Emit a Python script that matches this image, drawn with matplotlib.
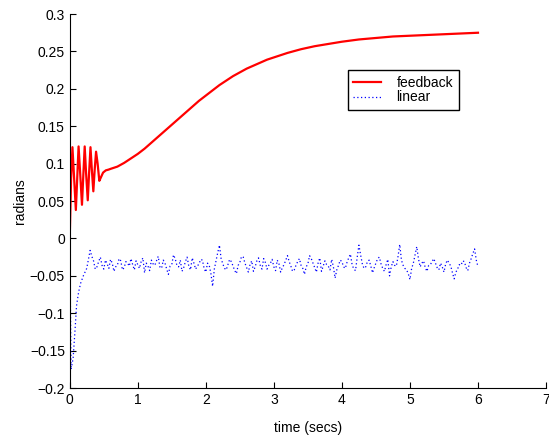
import matplotlib
matplotlib.use('Agg')
import matplotlib.pyplot as plt
import matplotlib.ticker as ticker
import numpy as np

plt.rcParams['font.family'] = ['Liberation Sans', 'DejaVu Sans']
plt.rcParams['font.size'] = 10

# feedback response: fast oscillation then slow rise
fb_t = [0.0, 0.02, 0.04, 0.065, 0.09, 0.11, 0.13, 0.155, 0.18, 0.2, 0.22, 0.24, 0.265,
        0.285, 0.305, 0.325, 0.347, 0.367, 0.387, 0.41, 0.435, 0.46, 0.49, 0.53, 0.57,
        0.6, 0.7, 0.8, 0.9, 1.0, 1.1, 1.2, 1.3, 1.4, 1.5, 1.6, 1.7, 1.8, 1.9, 2.0,
        2.1, 2.2, 2.3, 2.4, 2.5, 2.6, 2.7, 2.8, 2.9, 3.0, 3.2, 3.4, 3.6, 3.8, 4.0,
        4.25, 4.5, 4.75, 5.0, 5.5, 6.0]
fb_val = [0.0, 0.08, 0.122, 0.08, 0.038, 0.08, 0.123, 0.085, 0.045, 0.085, 0.123, 0.088,
          0.051, 0.088, 0.122, 0.092, 0.063, 0.092, 0.116, 0.1, 0.077, 0.082, 0.088, 0.091,
          0.092, 0.093, 0.096, 0.101, 0.107, 0.113, 0.120, 0.128, 0.136, 0.144, 0.152,
          0.160, 0.168, 0.176, 0.184, 0.191, 0.198, 0.205, 0.211, 0.217, 0.222, 0.227,
          0.231, 0.235, 0.239, 0.242, 0.248, 0.253, 0.257, 0.260, 0.263, 0.266, 0.268,
          0.270, 0.271, 0.273, 0.275]

# linear response: initial transient then noise
lin_t_start = [0.0, 0.02, 0.05, 0.08, 0.1, 0.13, 0.16, 0.2, 0.25]
lin_start = [0.0, -0.175, -0.16, -0.12, -0.09, -0.072, -0.06, -0.05, -0.04]
lin_noise = [
    -0.016, -0.024, -0.030, -0.041, -0.038, -0.031, -0.025, -0.036, -0.041, -0.029,
    -0.034, -0.040, -0.028, -0.033, -0.044, -0.038, -0.036, -0.027, -0.030, -0.042,
    -0.039, -0.031, -0.033, -0.037, -0.027, -0.035, -0.042, -0.030, -0.035, -0.040,
    -0.031, -0.026, -0.046, -0.033, -0.037, -0.043, -0.029, -0.034, -0.036, -0.030,
    -0.024, -0.038, -0.040, -0.029, -0.033, -0.041, -0.048, -0.037, -0.035, -0.022,
    -0.027, -0.036, -0.038, -0.029, -0.044, -0.039, -0.031, -0.025, -0.037, -0.042,
    -0.026, -0.033, -0.041, -0.037, -0.034, -0.028, -0.029, -0.040, -0.045, -0.033,
    -0.036, -0.047, -0.064, -0.041, -0.030, -0.019, -0.009, -0.027, -0.034, -0.040,
    -0.042, -0.035, -0.028, -0.031, -0.037, -0.043, -0.047, -0.036, -0.032, -0.024,
    -0.025, -0.033, -0.039, -0.045, -0.035, -0.030, -0.044, -0.038, -0.030, -0.026,
    -0.036, -0.041, -0.027, -0.032, -0.041, -0.036, -0.033, -0.028, -0.038, -0.043,
    -0.029, -0.034, -0.045, -0.039, -0.035, -0.029, -0.023, -0.031, -0.037, -0.044,
    -0.042, -0.036, -0.031, -0.027, -0.036, -0.040, -0.048, -0.038, -0.034, -0.023,
    -0.027, -0.033, -0.039, -0.045, -0.033, -0.026, -0.044, -0.037, -0.030, -0.035,
    -0.037, -0.042, -0.028, -0.038, -0.053, -0.042, -0.036, -0.029, -0.031, -0.038,
    -0.040, -0.032, -0.026, -0.021, -0.035, -0.041, -0.043, -0.025, -0.009, -0.022,
    -0.034, -0.040, -0.038, -0.031, -0.029, -0.037, -0.046, -0.039, -0.033, -0.027,
    -0.025, -0.034, -0.040, -0.044, -0.035, -0.028, -0.050, -0.038, -0.031, -0.036,
    -0.037, -0.024, -0.008, -0.029, -0.036, -0.040, -0.042, -0.047, -0.055, -0.040,
    -0.033, -0.022, -0.011, -0.027, -0.038, -0.033, -0.030, -0.039, -0.044, -0.036,
    -0.035, -0.031, -0.027, -0.033, -0.039, -0.042, -0.033, -0.038, -0.045, -0.034,
    -0.029, -0.033, -0.037, -0.046, -0.054, -0.045, -0.041, -0.035, -0.036, -0.030,
    -0.031, -0.039, -0.043, -0.033, -0.027, -0.020, -0.014, -0.029, -0.038,
]
lin_t = lin_t_start + list(np.linspace(0.3, 6.0, len(lin_noise)))
lin_val = lin_start + lin_noise

fig = plt.figure(figsize=(5.49, 4.36), dpi=100)
ax = fig.add_axes([0.127, 0.110, 0.8676, 0.8578])

ax.plot(fb_t, fb_val, color='red', lw=1.6, label='feedback')
ax.plot(lin_t, lin_val, color='blue', lw=0.9, ls=(0, (1, 2)), label='linear')

ax.set_xlim(0, 7)
ax.set_ylim(-0.2, 0.3)
ax.set_xticks(range(0, 8))
ax.set_yticks(np.arange(-0.2, 0.31, 0.05))
ax.yaxis.set_major_formatter(ticker.FuncFormatter(lambda v, _: ('%g' % (round(v, 3) + 0.0)).replace('-', '\u2212')))
ax.tick_params(direction='in', length=4, width=0.8)
ax.spines['top'].set_visible(False)
ax.spines['right'].set_visible(False)
ax.set_xlabel('time (secs)', labelpad=10)
ax.set_ylabel('radians', labelpad=2)

leg = ax.legend(loc='upper left', bbox_to_anchor=(0.584, 0.85), fancybox=False,
                edgecolor='black', framealpha=1, handlelength=2.0, borderaxespad=0,
                borderpad=0.4, labelspacing=0.05, handletextpad=1.1)
leg.get_frame().set_linewidth(1.0)

fig.savefig('out.png', dpi=100)
